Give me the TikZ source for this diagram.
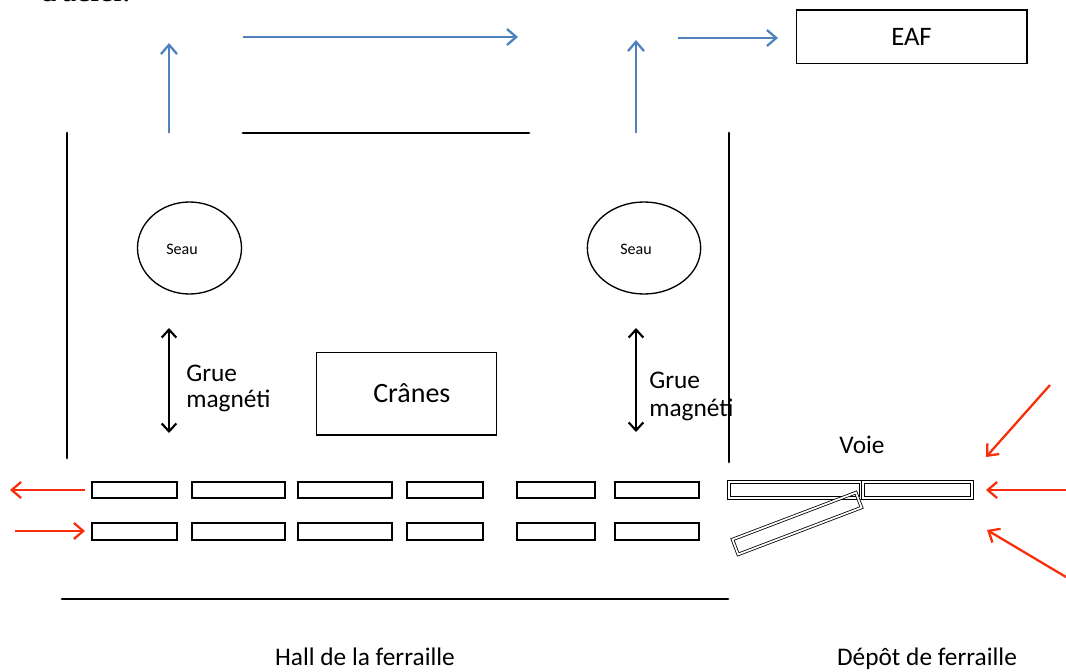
\documentclass[tikz,border=0pt]{standalone}
\usepackage{fontspec}
\setmainfont{Carlito}
\newfontfamily\serifcut{Liberation Serif}
\usepackage{tikz}
\usetikzlibrary{arrows.meta}
\usetikzlibrary{shapes.geometric}
\definecolor{flowblue}{RGB}{79,129,189}
\definecolor{scrapred}{RGB}{250,45,10}
\tikzset{wall/.style={line width=2.2pt, line cap=round}}
\tikzset{box/.style={draw, line width=1pt, inner sep=0pt}}
\tikzset{slot/.style={draw, line width=1pt}}
\tikzset{dslot/.style={draw, double, double distance=1.3pt, line width=0.6pt}}
\tikzset{bucket/.style={ellipse, draw, line width=1pt, inner sep=0pt}}
\tikzset{flow/.style={flowblue, line width=1.7pt, -{Straight Barb[length=7pt, width=12pt]}}}
\tikzset{feed/.style={scrapred, line width=1.7pt, -{Straight Barb[length=7pt, width=12pt]}}}
\tikzset{lift/.style={line width=1.6pt, {Straight Barb[length=6pt, width=11pt]}-{Straight Barb[length=6pt, width=11pt]}}}

\begin{document}
\begin{tikzpicture}[x=0.75pt, y=-0.75pt]
  \useasboundingbox (0,0) rectangle (1066,671);
  \node[anchor=base west, inner sep=0pt, font=\serifcut\fontsize{24}{26}\selectfont] (cut) at (40,2) {d'acier.};

  % walls of the hall
  \draw[wall] (67,133) -- (67,458);
  \draw[wall] (729,133) -- (729,462);
  \draw[wall] (243,133) -- (529,133);
  \draw[wall] (62,599) -- (728,599);

  % furnace and blue flow
  \node[box, minimum width=173pt, minimum height=40pt, font=\fontsize{20}{22}\selectfont] (eaf) at (911.5,36.5) {\raisebox{-3pt}{EAF}};
  \coordinate (upL0) at (169,133);
  \coordinate (upL1) at (169,43);
  \coordinate (upR0) at (636,133);
  \coordinate (upR1) at (636,40);
  \coordinate (topA) at (243,37);
  \coordinate (topB) at (518,37);
  \coordinate (eafA) at (678,38);
  \coordinate (eafB) at (778,38);
  \draw[flow] (upL0) -- (upL1);
  \draw[flow] (topA) -- (topB);
  \draw[flow] (upR0) -- (upR1);
  \draw[flow] (eafA) -- (eafB);

  % buckets
  \node[bucket, minimum width=78pt, minimum height=69pt] (seauL) at (189.5,248) {};
  \node[bucket, minimum width=85pt, minimum height=69pt] (seauR) at (644,248) {};
  \node[font=\fontsize{12}{14}\selectfont] (txtL) at (182,249) {Seau};
  \node[font=\fontsize{12}{14}\selectfont] (txtR) at (636,249) {Seau};

  % cranes
  \foreach \x/\a/\b/\lab in {169/328/433/L, 636/328/432/R} {
    \coordinate (lift\lab0) at (\x,\a);
    \coordinate (lift\lab1) at (\x,\b);
    \draw[lift] (lift\lab0) -- (lift\lab1);
  }
  \node[anchor=west, inner sep=0pt, align=left, font=\fontsize{19}{19.5}\selectfont] (grueL) at (186,388) {Grue\\magnéti};
  \node[anchor=west, inner sep=0pt, align=left, font=\fontsize{19}{21}\selectfont] (grueR) at (649,396) {Grue\\magnéti};
  \node[box, minimum width=135pt, minimum height=62pt, font=\fontsize{21}{24}\selectfont] (cranes) at (406.5,393.5) {\hspace*{8pt}Crânes};

  % tracks
  \foreach \xa/\xb in {92/177, 192/285, 298/392, 407/483, 517/595, 615/699} {
    \draw[slot] (\xa,482) rectangle (\xb,498);
    \draw[slot] (\xa,523) rectangle (\xb,540);
  }
  \draw[dslot] (729,482) rectangle (861,498);
  \draw[dslot] (863,482) rectangle (972,498);
  \draw[dslot, rotate around={20.8:(797,523.5)}] (731,515.5) rectangle (863,531.5);
  \node[anchor=base, font=\fontsize{19}{22}\selectfont] (voie) at (862,453) {Voie};

  % scrap feed
  \foreach \ax/\ay/\bx/\by/\lab in {
    85/490/10/490/a,
    15/531/85/531/b,
    1050/385/986/457/c,
    1066/490/986/490/d,
    1066/577/987/530/e%
  } {
    \coordinate (\lab0) at (\ax,\ay);
    \coordinate (\lab1) at (\bx,\by);
    \draw[feed] (\lab0) -- (\lab1);
  }

  \node[anchor=base, font=\fontsize{19}{22}\selectfont] (hall) at (365,665) {Hall de la ferraille};
  \node[anchor=base, font=\fontsize{19}{22}\selectfont] (depot) at (927,665) {Dépôt de ferraille};
\end{tikzpicture}
\end{document}
